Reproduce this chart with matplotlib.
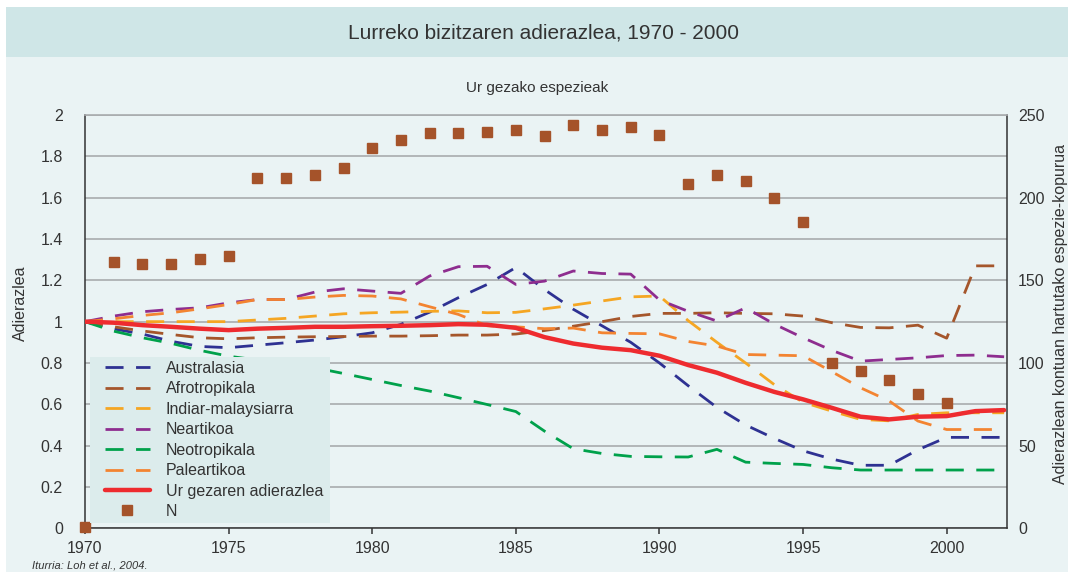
import matplotlib
matplotlib.use("Agg")
import matplotlib.pyplot as plt
from matplotlib import font_manager
from matplotlib.patches import Rectangle

years = list(range(1970, 2003))
australasia = [1.00, 0.965, 0.94, 0.905, 0.88, 0.874, 0.886, 0.898, 0.911, 0.927, 0.946,
               0.987, 1.046, 1.116, 1.18, 1.262, 1.155, 1.06, 0.98, 0.90, 0.80,
               0.69, 0.585, 0.50, 0.435, 0.375, 0.335, 0.305, 0.305, 0.38, 0.44, 0.44, 0.44]
afrotropikala = [1.00, 0.975, 0.955, 0.938, 0.922, 0.917, 0.922, 0.925, 0.927, 0.928, 0.930,
                 0.930, 0.932, 0.935, 0.935, 0.940, 0.957, 0.978, 1.0, 1.025, 1.04,
                 1.04, 1.043, 1.04, 1.038, 1.027, 0.995, 0.972, 0.970, 0.983, 0.92, 1.27, 1.27]
indiar = [1.00, 1.00, 1.00, 1.00, 1.00, 1.00, 1.008, 1.016, 1.027, 1.038, 1.043,
          1.046, 1.05, 1.052, 1.043, 1.045, 1.062, 1.08, 1.10, 1.12, 1.124,
          1.005, 0.90, 0.80, 0.695, 0.61, 0.567, 0.527, 0.52, 0.551, 0.559, 0.559, 0.559]
neartikoa = [1.00, 1.027, 1.048, 1.059, 1.067, 1.091, 1.107, 1.107, 1.143, 1.159, 1.148,
             1.137, 1.221, 1.266, 1.268, 1.18, 1.196, 1.245, 1.233, 1.23, 1.105,
             1.05, 1.003, 1.067, 0.988, 0.922, 0.861, 0.809, 0.817, 0.825, 0.836, 0.838, 0.830]
neotropikala = [1.00, 0.954, 0.922, 0.895, 0.861, 0.833, 0.814, 0.793, 0.777, 0.749, 0.720,
                0.691, 0.664, 0.632, 0.599, 0.565, 0.47, 0.385, 0.362, 0.348, 0.346,
                0.345, 0.382, 0.32, 0.314, 0.309, 0.293, 0.282, 0.282, 0.282, 0.282, 0.282, 0.282]
paleartikoa = [1.00, 1.014, 1.030, 1.043, 1.062, 1.083, 1.107, 1.107, 1.119, 1.127, 1.124,
               1.11, 1.072, 1.035, 0.98, 0.975, 0.966, 0.969, 0.946, 0.943, 0.941,
               0.904, 0.882, 0.841, 0.838, 0.835, 0.758, 0.68, 0.616, 0.519, 0.478, 0.478, 0.478]
ur_gezaren = [1.00, 0.995, 0.983, 0.975, 0.966, 0.959, 0.966, 0.970, 0.975, 0.975, 0.978,
              0.98, 0.983, 0.988, 0.985, 0.970, 0.925, 0.894, 0.874, 0.862, 0.835,
              0.79, 0.753, 0.704, 0.66, 0.624, 0.583, 0.540, 0.527, 0.540, 0.543, 0.567, 0.572]
n_years = list(range(1970, 2001))
n_species = [1, 161, 160, 160, 163, 165, 212, 212, 214, 218, 230, 235, 239, 239, 240, 241,
             237, 244, 241, 243, 238, 208, 214, 210, 200, 185, 100, 95, 90, 81, 76]

series = [
    ("Australasia", australasia, "#2E3192"),
    ("Afrotropikala", afrotropikala, "#A5562B"),
    ("Indiar-malaysiarra", indiar, "#F5A623"),
    ("Neartikoa", neartikoa, "#8E2D8F"),
    ("Neotropikala", neotropikala, "#00A14B"),
    ("Paleartikoa", paleartikoa, "#F38431"),
]
red_label = "Ur gezaren adierazlea"
xticks = [1970, 1975, 1980, 1985, 1990, 1995, 2000]
left_ticks = [0, 0.2, 0.4, 0.6, 0.8, 1, 1.2, 1.4, 1.6, 1.8, 2]
left_labels = ["0", "0.2", "0.4", "0.6", "0.8", "1", "1.2", "1.4", "1.6", "1.8", "2"]
right_ticks = [0, 50, 100, 150, 200, 250]

names = {f.name for f in font_manager.fontManager.ttflist}
REG = "Liberation Sans" if "Liberation Sans" in names else "DejaVu Sans"
TXT = "#333333"

W, H = 1068, 572
fig = plt.figure(figsize=(W / 100, H / 100), dpi=100)
fig.patch.set_facecolor("white")
fig.patches.append(Rectangle((6 / W, 0), 1 - 6 / W, 1 - 57 / H, transform=fig.transFigure,
                             facecolor="#EAF3F4", edgecolor="none", zorder=-10))
fig.patches.append(Rectangle((6 / W, 1 - 57 / H), 1 - 6 / W, 50 / H, transform=fig.transFigure,
                             facecolor="#CFE6E7", edgecolor="none", zorder=-10))
# legend background box
fig.patches.append(Rectangle((90 / W, 1 - 523 / H), 240 / W, 166 / H, transform=fig.transFigure,
                             facecolor="#DCECEC", edgecolor="none", zorder=5))

fig.text(543 / W, 1 - 33 / H, "Lurreko bizitzaren adierazlea, 1970 - 2000", ha="center",
         va="center", fontsize=15, family=REG, color=TXT)
fig.text(537 / W, 1 - 88 / H, "Ur gezako espezieak", ha="center", va="center",
         fontsize=11, family=REG, color=TXT)
fig.text(32 / W, 1 - 565 / H, "Iturria: Loh et al., 2004.", ha="left", va="center",
         fontsize=8, family=REG, style="italic", color=TXT)

ax = fig.add_axes([85 / W, 1 - 528.3 / H, 922 / W, 413.3 / H])
ax.set_facecolor("none")
ax.set_xlim(1970, 2002.1)
ax.set_ylim(0, 2)
ax.set_yticks(left_ticks)
ax.set_yticklabels(left_labels)
ax.set_xticks(xticks)
ax.grid(axis="y", color="#A9ABAE", lw=1.2, zorder=0)
ax.tick_params(axis="y", length=0, pad=16, labelsize=11.5, labelcolor=TXT)
ax.tick_params(axis="x", length=4.5, width=1.1, direction="out", pad=5, labelsize=11.5,
               labelcolor=TXT, color=TXT)
for lab in ax.get_xticklabels() + ax.get_yticklabels():
    lab.set_family(REG)
for s in ("left", "bottom", "right"):
    ax.spines[s].set_color(TXT)
    ax.spines[s].set_linewidth(1.1)
ax.spines["top"].set_color("#A9ABAE")
ax.spines["top"].set_linewidth(1.2)

handles = []
for name, vals, col in series:
    ln, = ax.plot(years, vals, color=col, lw=2.0, linestyle=(0, (6.5, 4.5)), label=name,
                  zorder=3)
    handles.append(ln)
red, = ax.plot(years, ur_gezaren, color="#EE2B2F", lw=3.2, label=red_label, zorder=4,
               solid_capstyle="round")
handles.append(red)

ax2 = ax.twinx()
ax2.set_ylim(0, 250)
ax2.set_yticks(right_ticks)
ax2.tick_params(axis="y", length=0, pad=8, labelsize=11.5, labelcolor=TXT)
for lab in ax2.get_yticklabels():
    lab.set_family(REG)
for s in ax2.spines.values():
    s.set_visible(False)
nm, = ax2.plot(n_years, n_species, linestyle="none", marker="s", markersize=6.5,
               color="#A5532A", label="N", clip_on=False, zorder=5)
handles.append(nm)

fig.text(20 / W, 1 - 303 / H, "Adierazlea", rotation=90, ha="center", va="center",
         fontsize=11.5, family=REG, color=TXT)
fig.text(1061 / W, 1 - 314 / H, "Adierazlean kontuan hartutako espezie-kopurua", rotation=90,
         ha="center", va="center", fontsize=11.5, family=REG, color=TXT)

leg = fig.legend(handles=handles, loc="upper left",
                 bbox_to_anchor=(105 / W, 1 - 361 / H), bbox_transform=fig.transFigure,
                 frameon=False, borderpad=0, borderaxespad=0, handlelength=2.8,
                 handletextpad=1.0, labelspacing=0.34, numpoints=1,
                 prop={"family": REG, "size": 11.5})
leg.set_zorder(10)
for t in leg.get_texts():
    t.set_color(TXT)

fig.savefig("out.png", dpi=100, facecolor=fig.get_facecolor())
